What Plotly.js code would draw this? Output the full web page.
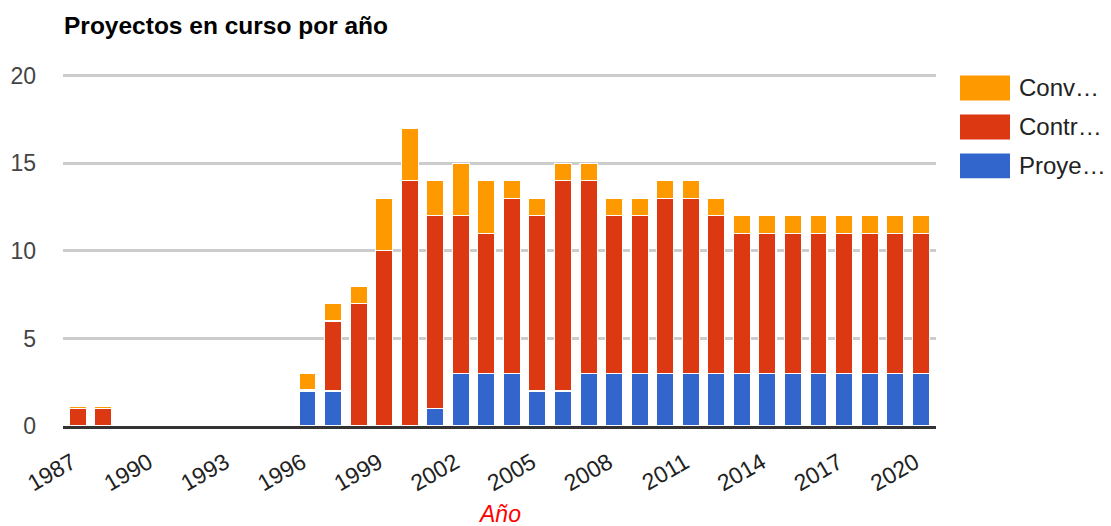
<!DOCTYPE html>
<html>
<head>
<meta charset="utf-8">
<script src="https://cdn.plot.ly/plotly-3.0.1.min.js"></script>
<style>html,body{margin:0;padding:0;background:#fff;}#chart{width:1111px;height:526px;}</style>
</head>
<body>
<div id="chart"></div>
<script>
const years = [1987,1988,1989,1990,1991,1992,1993,1994,1995,1996,1997,1998,1999,2000,2001,2002,2003,2004,2005,2006,2007,2008,2009,2010,2011,2012,2013,2014,2015,2016,2017,2018,2019,2020];
const proyectos = [0,0,0,0,0,0,0,0,0,2,2,0,0,0,1,3,3,3,2,2,3,3,3,3,3,3,3,3,3,3,3,3,3,3];
const contratos = [1,1,0,0,0,0,0,0,0,0.1,4,7,10,14,11,9,8,10,10,12,11,9,9,10,10,9,8,8,8,8,8,8,8,8];
const convenios = [0.1,0.1,0,0,0,0,0,0,0,0.9,1,1,3,3,2,3,3,1,1,1,1,1,1,1,1,1,1,1,1,1,1,1,1,1];
const seriesNames = ["Proye…","Contr…","Conv…"];
const seriesColors = ["#3366cc","#dc3912","#ff9900"];
const xTicks = [1987,1990,1993,1996,1999,2002,2005,2008,2011,2014,2017,2020];
const yTicks = [0,5,10,15,20];
const chartTitle = "Proyectos en curso por año";
const xTitle = "Año";

const seriesValues = [proyectos, contratos, convenios];
const font = "Liberation Sans, Arial, sans-serif";

const traces = seriesValues.map((vals, i) => ({
  type: "bar",
  x: years,
  y: vals.map(v => (v === 0 ? null : v)),
  name: seriesNames[i],
  width: 0.67,
  marker: {color: seriesColors[i], line: {color: "#ffffff", width: 1.2}},
  hoverinfo: "x+y+name",
  showlegend: false
}));

// plot area in pixels (for paper-coordinate decorations)
const PL = 63, PR = 936, PT = 73.5, PB = 426;
const px = x => (x - PL) / (PR - PL);
const py = y => (PB - y) / (PB - PT);

// custom legend (top entry = last series)
const shapes = [];
const annotations = [];
const legendX0 = 960, legendTop = 75, legendStep = 39;
for (let k = 0; k < seriesNames.length; k++) {
  const i = seriesNames.length - 1 - k;
  const y0 = legendTop + k * legendStep;
  shapes.push({type: "rect", xref: "paper", yref: "paper", layer: "above",
    x0: px(legendX0), x1: px(legendX0 + 50), y0: py(y0), y1: py(y0 + 25),
    fillcolor: seriesColors[i], line: {width: 0}});
  annotations.push({xref: "paper", yref: "paper", x: px(legendX0 + 57),
    y: py(y0 + 12.5), xanchor: "left", yanchor: "middle", showarrow: false,
    text: seriesNames[i], font: {family: font, size: 24, color: "#222222"}});
}
annotations.push({xref: "paper", yref: "paper", x: 0.5, y: py(514), xanchor: "center", yanchor: "middle",
  showarrow: false, text: "<i>" + xTitle + "</i>", font: {family: font, size: 23, color: "#ff0000"}});

const layout = {
  width: 1111, height: 526,
  margin: {l: PL, r: 1111 - PR, t: PT, b: 526 - PB},
  paper_bgcolor: "#ffffff", plot_bgcolor: "#ffffff",
  barmode: "stack",
  showlegend: false,
  title: {text: "<b>" + chartTitle + "</b>", x: 64 / 1111, xanchor: "left", y: 1 - 25 / 526, yanchor: "middle",
    font: {family: font, size: 24.5, color: "#000000"}},
  xaxis: {
    range: [1986.43, 2020.6],
    tickmode: "array", tickvals: xTicks, ticktext: xTicks.map(t => t + "\u00a0"),
    tickangle: -30, showgrid: false, zeroline: false,
    showline: true, linecolor: "#333333", linewidth: 3, layer: "above traces",
    ticks: "", ticklabelstandoff: 8,
    tickfont: {family: font, size: 23, color: "#222222"}
  },
  yaxis: {
    range: [0, 20.1],
    tickmode: "array", tickvals: yTicks,
    showgrid: true, gridcolor: "#cccccc", gridwidth: 2.5,
    zeroline: false, showline: false, ticks: "", ticklabelstandoff: 26,
    tickfont: {family: font, size: 23, color: "#444444"}
  },
  shapes: shapes,
  annotations: annotations
};

Plotly.newPlot("chart", traces, layout, {displayModeBar: false});
</script>
</body>
</html>
